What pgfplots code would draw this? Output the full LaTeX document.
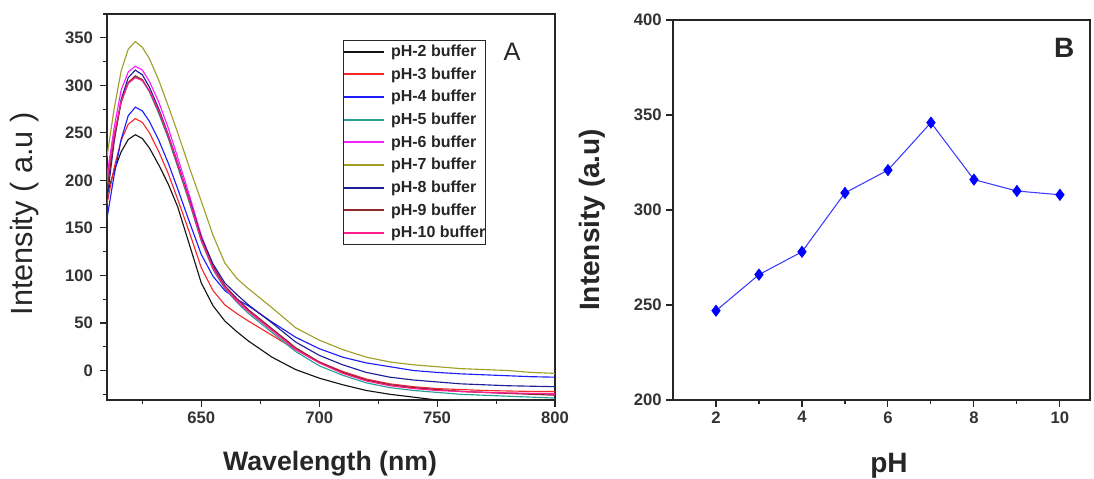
\documentclass[border=0pt]{standalone}
\usepackage{pgfplots}
\usepackage{pgfplotstable}
\pgfplotsset{compat=1.18}
\usepackage{fontspec}
\setmainfont{Liberation Sans}

\definecolor{cblack}{RGB}{20,20,20}
\definecolor{cred}{RGB}{245,40,40}
\definecolor{cblue}{RGB}{30,30,250}
\definecolor{cteal}{RGB}{40,160,150}
\definecolor{cmag}{RGB}{250,30,250}
\definecolor{colive}{RGB}{160,160,40}
\definecolor{cnavy}{RGB}{30,30,150}
\definecolor{cbrown}{RGB}{140,40,40}
\definecolor{cpink}{RGB}{255,30,140}
\definecolor{bline}{RGB}{60,60,255}

% wavelength, pH2 ... pH10
\pgfplotstableread{
wl   p2   p3   p4   p5   p6   p7   p8   p9   p10
610  185  175  160  195  205  225  180  190  200
613  210  213  205  245  255  275  240  243  248
616  230  242  243  283  295  315  285  282  283
619  243  259  268  302  314  338  308  303  302
622  248  265  277  309  320  346  316  310  308
625  244  261  273  305  316  340  311  306  305
628  234  250  262  293  304  328  298  294  294
632  216  230  242  270  282  305  275  272  273
636  196  207  218  244  255  278  248  246  247
640  172  180  191  214  224  250  218  216  217
645  132  145  156  176  184  213  180  178  178
650   92  108  122  136  142  178  140  138  137
655   68   84   99  106  110  142  112  109  107
660   52   69   84   86   89  113   92   89   87
665   41   60   75   72   75   97   80   76   73
670   31   52   68   60   63   86   69   64   62
680   14   37   51   40   43   66   50   44   42
690    1   22   35   20   23   45   30   24   22
700   -8    9   23    5    9   32   16    9    8
710  -15   -1   14   -5   -2   22    6   -2   -3
720  -21   -9    8  -13  -10   14   -2  -10  -11
730  -25  -14    4  -18  -15    9   -7  -15  -16
740  -28  -17    0  -21  -18    6  -10  -18  -19
750  -31  -19   -2  -23  -20    4  -12  -20  -21
760  -33  -20 -3.5  -25  -22    2  -14  -22  -22
770  -34  -21 -4.5  -26  -23    1  -15  -23  -23
780  -35 -21.5 -5.5 -27  -24    0  -16  -24 -23.5
790  -36  -22 -6.5  -28 -24.5  -2 -16.5 -25  -24
800  -37  -22   -7  -29  -25   -3  -17  -26  -24
}\spectra

\pgfplotstableread{
ph  I
2   247
3   266
4   278
5   309
6   321
7   346
8   316
9   310
10  308
}\phdata

\begin{document}
\begin{tikzpicture}
\useasboundingbox (0,0) rectangle (820.5pt,358.5pt);
\pgfplotsset{
  every axis/.append style={
    scale only axis,
    axis line style={line width=0.9pt, black!85},
    tick align=outside,
    tick pos=left,
    major tick length=5pt,
    minor tick length=3pt,
    every tick/.style={black!85, line width=0.8pt},
    ticklabel style={font=\bfseries\fontsize{12.5}{14}\selectfont, text=black!80},
    /pgf/number format/assume math mode=true,
  },
}
% ---------------- Panel A ----------------
\begin{axis}[
  at={(80.25pt,58.5pt)}, anchor=south west,
  width=336pt, height=289.5pt,
  xmin=610, xmax=800, ymin=-31, ymax=375,
  xtick={650,700,750,800},
  minor xtick={625,675,725,775},
  ytick={0,50,...,350},
  minor ytick={-25,25,75,...,375},
  yticklabel style={xshift=-2pt},
  xlabel={\bfseries Wavelength (nm)},
  ylabel={Intensity ( a.u )},
  xlabel style={font=\fontsize{20}{24}\selectfont, text=black!85, at={(axis description cs:0.498,-0.165)}, anchor=center},
  ylabel style={font=\fontsize{23}{26}\selectfont, text=black!85, at={(axis description cs:-0.183,0.482)}, anchor=center},
  clip=true,
  legend style={
    at={(rel axis cs:0.526,0.933)}, anchor=north west,
    draw=black!85, line width=0.8pt,
    inner xsep=0pt, inner ysep=2.5pt,
    font=\bfseries\fontsize{12}{14}\selectfont,
    nodes={inner sep=0pt, text height=9.5pt, text depth=2.5pt, text=black!85},
    row sep=5pt,
    cells={anchor=west},
  },
  legend image code/.code={\draw[#1, line width=1.4pt] (0pt,0pt) -- (30pt,0pt);},
  legend cell align=left,
  every axis plot/.append style={line width=0.85pt},
]
\addplot[cblack] table[x=wl,y=p2] {\spectra};
\addlegendentry{\hspace{4.5pt}pH-2 buffer}
\addplot[cred] table[x=wl,y=p3] {\spectra};
\addlegendentry{\hspace{4.5pt}pH-3 buffer}
\addplot[cblue] table[x=wl,y=p4] {\spectra};
\addlegendentry{\hspace{4.5pt}pH-4 buffer}
\addplot[cteal] table[x=wl,y=p5] {\spectra};
\addlegendentry{\hspace{4.5pt}pH-5 buffer}
\addplot[cmag] table[x=wl,y=p6] {\spectra};
\addlegendentry{\hspace{4.5pt}pH-6 buffer}
\addplot[colive] table[x=wl,y=p7] {\spectra};
\addlegendentry{\hspace{4.5pt}pH-7 buffer}
\addplot[cnavy] table[x=wl,y=p8] {\spectra};
\addlegendentry{\hspace{4.5pt}pH-8 buffer}
\addplot[cbrown] table[x=wl,y=p9] {\spectra};
\addlegendentry{\hspace{4.5pt}pH-9 buffer}
\addplot[cpink] table[x=wl,y=p10] {\spectra};
\addlegendentry{\hspace{4.5pt}pH-10 buffer}
\node[font=\fontsize{19}{21}\selectfont, text=black!85] at (rel axis cs:0.904,0.902) {A};
\end{axis}
% ---------------- Panel B ----------------
\begin{axis}[
  at={(504.75pt,58.5pt)}, anchor=south west,
  width=312.75pt, height=285pt,
  xmin=1, xmax=10.7, ymin=200, ymax=400,
  xtick={2,4,6,8,10},
  minor xtick={3,5,7,9},
  ytick={200,250,...,400},
  xlabel={\bfseries pH},
  ylabel={\bfseries Intensity (a.u)},
  xlabel style={font=\fontsize{21}{24}\selectfont, text=black!85, at={(axis description cs:0.518,-0.172)}, anchor=center},
  ylabel style={font=\fontsize{21}{24}\selectfont, text=black!85, at={(axis description cs:-0.194,0.474)}, anchor=center},
]
\addplot[bline, line width=0.8pt, mark=diamond*, mark size=4.3pt,
  mark options={fill=blue, draw=blue, line width=0.4pt}] table[x=ph,y=I] {\phdata};
\node[font=\bfseries\fontsize{21}{24}\selectfont, text=black!85] at (rel axis cs:0.938,0.926) {B};
\end{axis}
\end{tikzpicture}
\end{document}
